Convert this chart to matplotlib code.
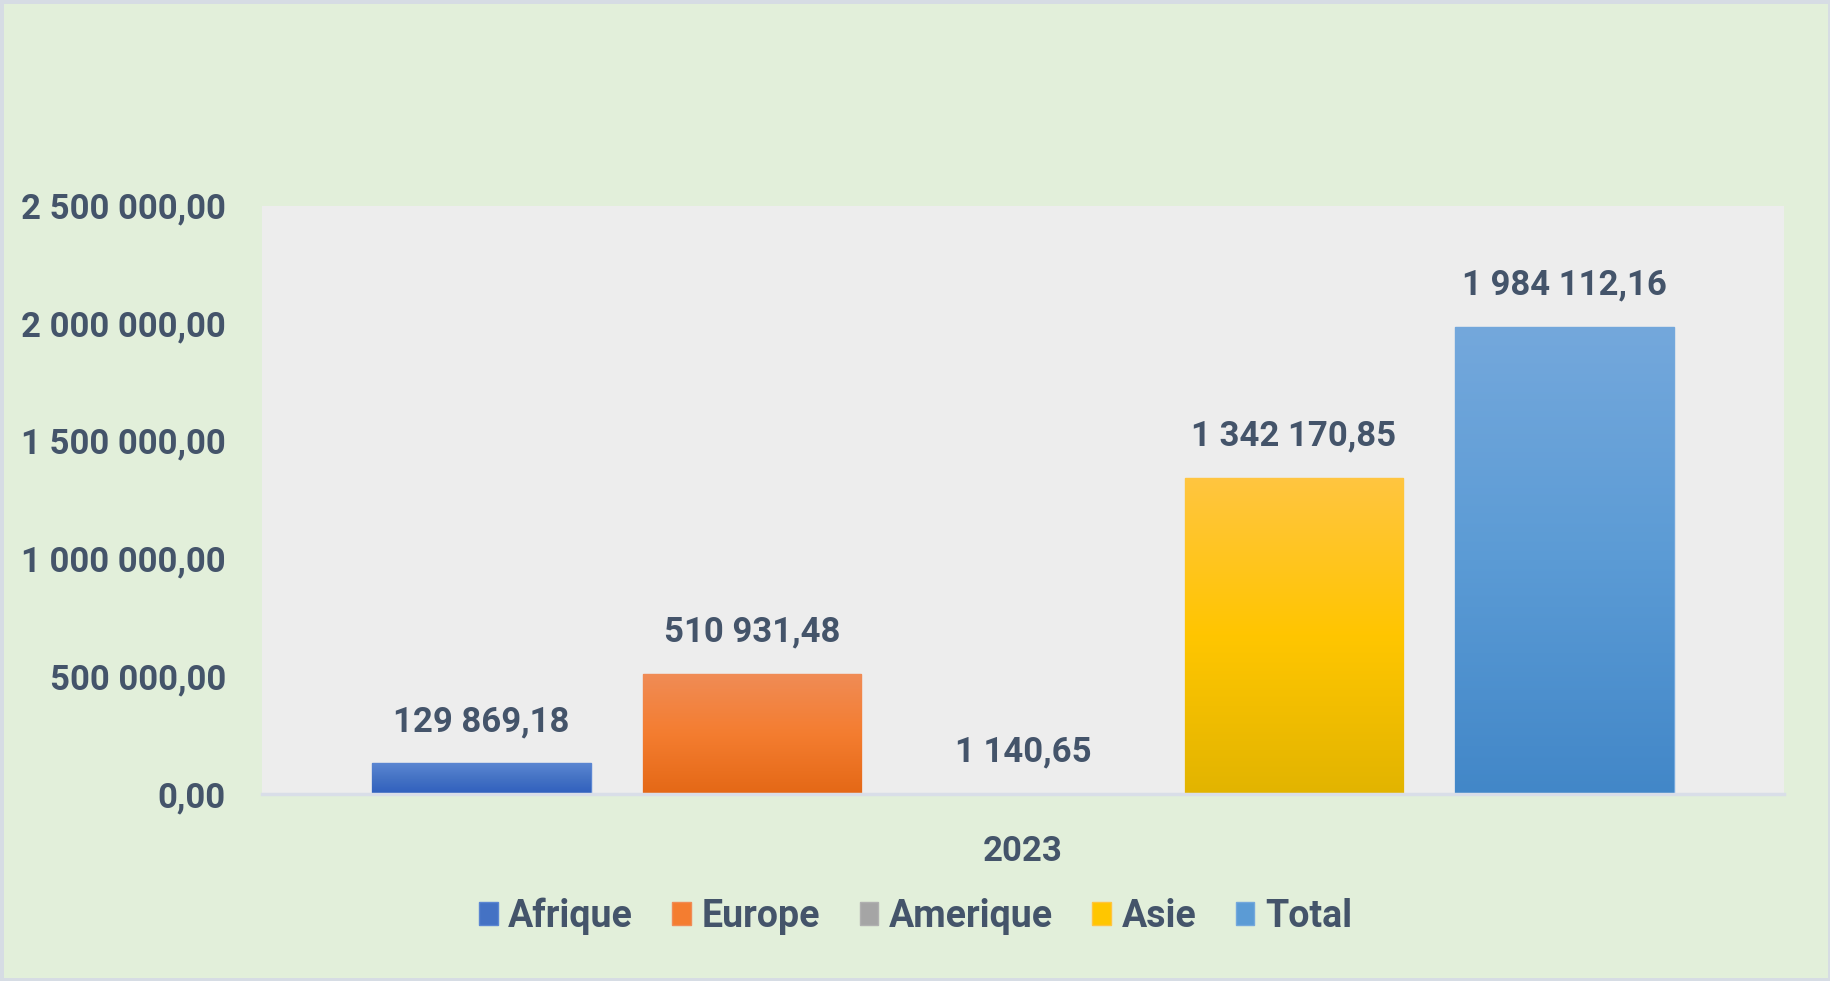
import numpy as np
import matplotlib
matplotlib.use("Agg")
import matplotlib.pyplot as plt
from matplotlib.colors import LinearSegmentedColormap
from matplotlib.patches import Rectangle

# Data
regions = ["Afrique", "Europe", "Amerique", "Asie", "Total"]
values = [129869.18, 510931.48, 1140.65, 1342170.85, 1984112.16]
year_label = "2023"
y_ticks = [0, 500000, 1000000, 1500000, 2000000, 2500000]

# gradient colours per bar: top, middle, bottom
grad_colors = [
    ("#5B86D2", "#4472C4", "#2F5FBE"),
    ("#F08C56", "#F47D30", "#E46816"),
    ("#B0B0B0", "#A5A5A5", "#969696"),
    ("#FFC540", "#FFC600", "#E2B400"),
    ("#74A8DC", "#5B9BD5", "#4287C8"),
]
text_color = "#44546A"
font = "Roboto"
fsize = 25


def fr_format(v):
    # French style: space for thousands, comma for decimals
    return f"{v:,.2f}".replace(",", " ").replace(".", ",")


plt.rcParams["font.family"] = [font, "DejaVu Sans"]

fig = plt.figure(figsize=(18.31, 9.81), dpi=100)
fig.patch.set_facecolor("#E2EFDA")
ax = fig.add_axes([0.1431, 0.1906, 0.8312, 0.5999])
ax.set_facecolor("#EDEDED")

x = np.arange(len(regions))
width = 0.806
bars = ax.bar(x, values, width=width, color=[c[1] for c in grad_colors],
              edgecolor=[c[0] for c in grad_colors], linewidth=1, zorder=2)

# Vertical gradients clipped to each bar
grad = np.linspace(0, 1, 256).reshape(-1, 1)
for b, xi, v, (top, mid, bot) in zip(bars, x, values, grad_colors):
    cmap = LinearSegmentedColormap.from_list("g", [bot, mid, top])
    im = ax.imshow(grad, cmap=cmap, origin="lower", aspect="auto",
                   extent=(xi - width / 2, xi + width / 2, 0, v), zorder=2.5)
    im.set_clip_path(b)
    ax.annotate(fr_format(v), (xi, v), xytext=(0, 30), textcoords="offset points",
                ha="center", va="center", fontsize=fsize, fontweight="bold",
                color=text_color, zorder=4)

ax.set_xlim(-0.81, 4.81)
ax.set_ylim(0, 2500000)
ax.set_yticks(y_ticks)
ax.set_yticklabels([fr_format(t) for t in y_ticks])
ax.set_xticks([])
ax.tick_params(axis="y", length=0, pad=26, labelsize=fsize, labelcolor=text_color)
for lbl in ax.get_yticklabels():
    lbl.set_fontweight("bold")
for s in ax.spines.values():
    s.set_visible(False)
ax.axhline(0, color="#D9DEE8", lw=2.5, zorder=3, clip_on=False)

# category label below the axis
ax.text(0.5, -0.098, year_label, transform=ax.transAxes, ha="center", va="center",
        fontsize=fsize, fontweight="bold", color=text_color)

# legend
handles = [Rectangle((0, 0), 1, 1, facecolor=c[1], edgecolor=c[0], lw=1) for c in grad_colors]
fig.legend(handles, regions, loc="center", bbox_to_anchor=(0.5, 0.066), ncol=5,
           frameon=False, handlelength=0.5, handleheight=0.55, handletextpad=0.28,
           columnspacing=1.05, prop={"family": [font, "DejaVu Sans"], "weight": "bold", "size": 27},
           labelcolor=text_color)

# outer border
fig.patches.append(Rectangle((0, 0), 1, 1, transform=fig.transFigure, fill=False,
                             edgecolor="#D6DCE4", lw=5, zorder=10))

fig.savefig("out.png", dpi=100, facecolor=fig.get_facecolor())
